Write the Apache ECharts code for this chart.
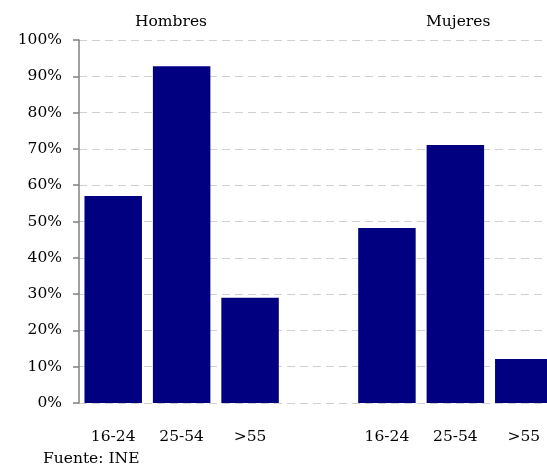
<!DOCTYPE html>
<html><head><meta charset="utf-8">
<script src="https://cdn.jsdelivr.net/npm/echarts@6/dist/echarts.min.js"></script>
<style>html,body{margin:0;padding:0;background:#fff;overflow:hidden;width:547px;height:472px}#c{width:558px;height:472px}</style>
</head><body><div id="c"></div>
<script>
const categories = ['16-24', '25-54', '>55', '', '16-24', '25-54', '>55'];
const values = [57.0, 92.8, 29.0, null, 48.2, 71.1, 12.1];
const yTicks = [0, 10, 20, 30, 40, 50, 60, 70, 80, 90, 100];
const groupTitles = ['Hombres', 'Mujeres'];
const source = 'Fuente: INE';

const FONT = 'DejaVu Serif';
const FS = 15.5;
const chart = echarts.init(document.getElementById('c'), null, {renderer: 'canvas'});
const ts = {fontFamily: FONT, fontSize: FS, fontWeight: 'normal', color: '#000'};
chart.setOption({
  animation: false,
  backgroundColor: '#fff',
  title: [
    {text: groupTitles[0], left: 135, top: 14, padding: 0, textStyle: ts},
    {text: groupTitles[1], left: 426, top: 14, padding: 0, textStyle: ts},
    {text: source, left: 43, top: 451, padding: 0, textStyle: ts}
  ],
  grid: {left: 79, right: 0, top: 40, height: 363, containLabel: false},
  xAxis: {
    type: 'category', data: categories,
    axisLine: {show: false}, axisTick: {show: false},
    axisLabel: {fontFamily: FONT, fontSize: FS, color: '#000', margin: 26, interval: 0}
  },
  yAxis: {
    type: 'value', min: yTicks[0], max: yTicks[yTicks.length - 1], interval: 10,
    axisLine: {show: true, lineStyle: {color: '#808080', width: 1.5}},
    axisTick: {show: true, length: 6, lineStyle: {color: '#808080', width: 1.5}},
    axisLabel: {fontFamily: FONT, fontSize: FS, color: '#000', margin: 17,
      formatter: v => v + '%'},
    splitLine: {show: true, lineStyle: {color: '#d0d0d0', type: [8, 5], width: 1}}
  },
  series: [{
    type: 'bar', data: values, barCategoryGap: '16%',
    itemStyle: {color: '#000080'}
  }]
});
</script></body></html>
